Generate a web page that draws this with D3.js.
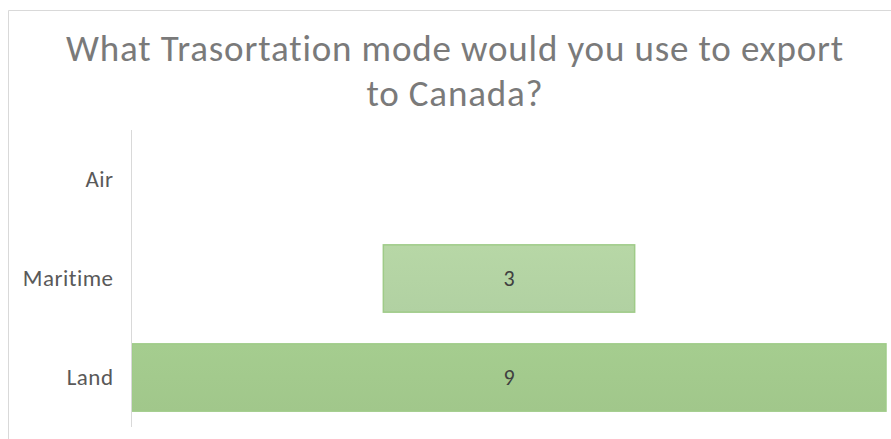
<!DOCTYPE html>
<html lang="en">
  <head>
    <meta charset="UTF-8" />
    <title>What Trasortation mode would you use to export to Canada?</title>
    <style>
      body {
        margin: 0;
        background: #ffffff;
      }
      svg text {
        font-family: Carlito, "Open Sans", Lato, sans-serif;
      }
      .axis .domain {
        stroke: #d9d9d9;
      }
      .axis text {
        fill: #595959;
        font-size: 23px;
        letter-spacing: 0.5px;
      }
    </style>
  </head>
  <body>
    <div id="chart"></div>
    <script src="https://d3js.org/d3.v7.min.js"></script>
    <script>
      const width = 891;
      const height = 439;

      const categories = ["Air", "Maritime", "Land"];
      const values = [0, 3, 9];
      const fills = ["#b4d4a4", "#b4d4a4", "#a3ca8d"];
      const titleLines = ["What Trasortation mode would you use to export", "to Canada?"];

      const margin = { top: 130, right: 5, bottom: 12, left: 132 };

      const svg = d3
        .select("#chart")
        .append("svg")
        .attr("width", width)
        .attr("height", height);

      const defs = svg.append("defs");
      fills.forEach((c, i) => {
        const g = defs
          .append("linearGradient")
          .attr("id", "grad" + i)
          .attr("x1", 0)
          .attr("y1", 0)
          .attr("x2", 0)
          .attr("y2", 1);
        g.append("stop").attr("offset", "0%").attr("stop-color", d3.color(c).brighter(0.04));
        g.append("stop").attr("offset", "100%").attr("stop-color", d3.color(c).darker(0.04));
      });

      // chart frame
      svg
        .append("path")
        .attr("d", `M8.5,${height} V10.5 H${width}`)
        .attr("fill", "none")
        .attr("stroke", "#d9d9d9");

      // title
      const title = svg
        .append("text")
        .attr("text-anchor", "middle")
        .attr("fill", "#7a7a7a")
        .style("font-size", "37px");
      title
        .selectAll("tspan")
        .data(titleLines)
        .enter()
        .append("tspan")
        .attr("x", 455)
        .attr("y", (d, i) => 61 + i * 45)
        .text((d) => d);

      // widen spacing a little so the first line spans the reference width
      const w = title.select("tspan").node().getComputedTextLength();
      title.style("letter-spacing", Math.max(0, (777 - w) / (titleLines[0].length - 1)) + "px");

      const x = d3
        .scaleLinear()
        .domain([0, d3.max(values)])
        .range([0, width - margin.left - margin.right]);

      const y = d3
        .scaleBand()
        .domain(categories)
        .range([margin.top, height - margin.bottom])
        .paddingInner(0.32)
        .paddingOuter(0.16);

      const cx = margin.left + x(d3.max(values)) / 2;

      svg
        .selectAll("rect.bar")
        .data(categories)
        .enter()
        .append("rect")
        .attr("class", "bar")
        .attr("x", (d, i) => cx - x(values[i]) / 2)
        .attr("y", (d) => y(d))
        .attr("width", (d, i) => x(values[i]))
        .attr("height", y.bandwidth())
        .attr("fill", (d, i) => `url(#grad${i})`)
        .attr("stroke", "#9fcb88")
        .attr("stroke-width", 1.5)
        .style("display", (d, i) => (values[i] > 0 ? null : "none"));

      svg
        .selectAll("text.value")
        .data(categories)
        .enter()
        .filter((d, i) => values[i] > 0)
        .append("text")
        .attr("class", "value")
        .attr("x", cx)
        .attr("y", (d) => y(d) + y.bandwidth() / 2)
        .attr("dy", "0.33em")
        .attr("text-anchor", "middle")
        .attr("fill", "#404040")
        .style("font-size", "22px")
        .text((d) => values[categories.indexOf(d)]);

      svg
        .append("g")
        .attr("class", "axis")
        .attr("transform", `translate(${margin.left - 0.5},0)`)
        .call(d3.axisLeft(y).tickSize(0).tickPadding(18))
        .call((g) => g.attr("font-family", null))
        .call((g) => g.select(".domain").attr("d", `M0,${margin.top}V${height - margin.bottom}`));
    </script>
  </body>
</html>
